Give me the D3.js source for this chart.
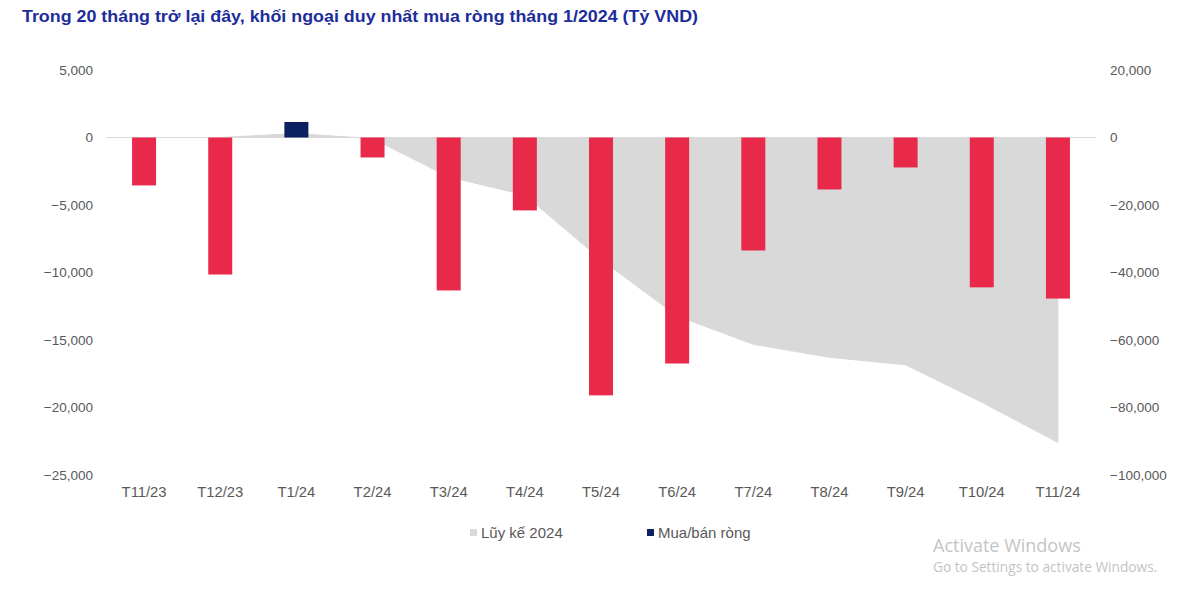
<!DOCTYPE html>
<html>
<head>
<meta charset="utf-8">
<script src="https://cdnjs.cloudflare.com/ajax/libs/d3/7.8.5/d3.min.js"></script>
<style>
  body { margin: 0; background: #fff; }
  text { font-family: Arial, "Liberation Sans", sans-serif; }
</style>
</head>
<body>
<div id="chartWrapper"></div>
<script>
// data
var months = ["T11/23","T12/23","T1/24","T2/24","T3/24","T4/24","T5/24","T6/24","T7/24","T8/24","T9/24","T10/24","T11/24"];
var netFlow = [-3550,-10150,1150,-1480,-11330,-5400,-19100,-16740,-8370,-3850,-2220,-11100,-11930];
var cumul2024 = [null,0,1150,-330,-11660,-17060,-36160,-52900,-61270,-65120,-67340,-78440,-90370];
var leftTicks = [5000,0,-5000,-10000,-15000,-20000,-25000];
var rightTicks = [20000,0,-20000,-40000,-60000,-80000,-100000];

var W = 1200, H = 590;
var plotL = 106, plotR = 1096, plotT = 70, plotB = 475;

var svg = d3.select('#chartWrapper')
  .append("svg")
  .attr("width", W)
  .attr("height", H);

svg.append("text")
  .attr("x", 22).attr("y", 22)
  .attr("textLength", 676)
  .attr("lengthAdjust", "spacingAndGlyphs")
  .style("font-size", "16.5px")
  .style("font-weight", "bold")
  .style("fill", "#1c2d9b")
  .text("Trong 20 tháng trở lại đây, khối ngoại duy nhất mua ròng tháng 1/2024 (Tỷ VND)");

var x = d3.scaleBand().domain(months).range([plotL, plotR]),
    yL = d3.scaleLinear().domain([-25000, 5000]).range([plotB, plotT]),
    yR = d3.scaleLinear().domain([-100000, 20000]).range([plotB, plotT]);

var fmt = d3.format(",");

// cumulative area (right axis)
var cumData = months.map(function(m, i){ return {m: m, v: cumul2024[i]}; })
  .filter(function(d){ return d.v !== null; });

var area = d3.area()
  .x(function(d){ return x(d.m) + x.bandwidth()/2; })
  .y0(yR(0))
  .y1(function(d){ return yR(d.v); });

svg.append("path")
  .datum(cumData)
  .attr("d", area)
  .attr("fill", "#d9d9d9")
  .attr("stroke", "#d9d9d9")
  .attr("stroke-width", 1);

// zero line
svg.append("line")
  .attr("x1", plotL).attr("x2", plotR)
  .attr("y1", yL(0)).attr("y2", yL(0))
  .attr("stroke", "#d9d9d9")
  .attr("stroke-width", 1);

// bars
var barW = 24;
svg.selectAll(".m-bar")
  .data(netFlow)
  .enter()
  .append("rect")
  .attr("class", "m-bar")
  .attr("x", function(d, i){ return x(months[i]) + x.bandwidth()/2 - barW/2; })
  .attr("y", function(d){ return yL(Math.max(0, d)); })
  .attr("width", barW)
  .attr("height", function(d){ return Math.abs(yL(d) - yL(0)); })
  .attr("fill", function(d){ return d > 0 ? "#0b2160" : "#e8294a"; });

// axes
var axisL = svg.append("g")
  .attr("transform", "translate(" + (plotL - 13) + ",0)")
  .call(d3.axisLeft(yL).tickValues(leftTicks).tickFormat(fmt).tickSize(0));
var axisR = svg.append("g")
  .attr("transform", "translate(" + (plotR + 14) + ",0)")
  .call(d3.axisRight(yR).tickValues(rightTicks).tickFormat(fmt).tickSize(0));
var axisX = svg.append("g")
  .attr("transform", "translate(0," + (plotB + 8) + ")")
  .call(d3.axisBottom(x).tickSize(0));

[axisL, axisR, axisX].forEach(function(g){
  g.select(".domain").remove();
  g.selectAll("text")
    .style("font-family", "Arial, 'Liberation Sans', sans-serif")
    .style("font-size", "13.5px")
    .style("fill", "#595959");
});
axisX.selectAll("text").style("font-size", "14.8px");
axisL.selectAll("text").attr("x", 0);
axisR.selectAll("text").attr("x", 0);

// legend
var legend = [
  {label: "Lũy kế 2024", color: "#d9d9d9", x: 470},
  {label: "Mua/bán ròng", color: "#0b2160", x: 647}
];
var lg = svg.selectAll(".legend")
  .data(legend)
  .enter().append("g")
  .attr("class", "legend")
  .attr("transform", function(d){ return "translate(" + d.x + ",532)"; });
lg.append("rect")
  .attr("x", 0).attr("y", -3)
  .attr("width", 7).attr("height", 7)
  .attr("fill", function(d){ return d.color; });
lg.append("text")
  .attr("x", 11).attr("y", 6)
  .style("font-size", "15px")
  .style("fill", "#595959")
  .text(function(d){ return d.label; });

// windows watermark
svg.append("text")
  .attr("x", 933).attr("y", 552)
  .style("font-family", "'Open Sans', 'Noto Sans', sans-serif")
  .style("font-size", "18px")
  .style("fill", "#c4c4c4")
  .text("Activate Windows");
svg.append("text")
  .attr("x", 933).attr("y", 572)
  .style("font-family", "'Open Sans', 'Noto Sans', sans-serif")
  .style("font-size", "13.7px")
  .style("fill", "#c4c4c4")
  .text("Go to Settings to activate Windows.");
</script>
</body>
</html>
